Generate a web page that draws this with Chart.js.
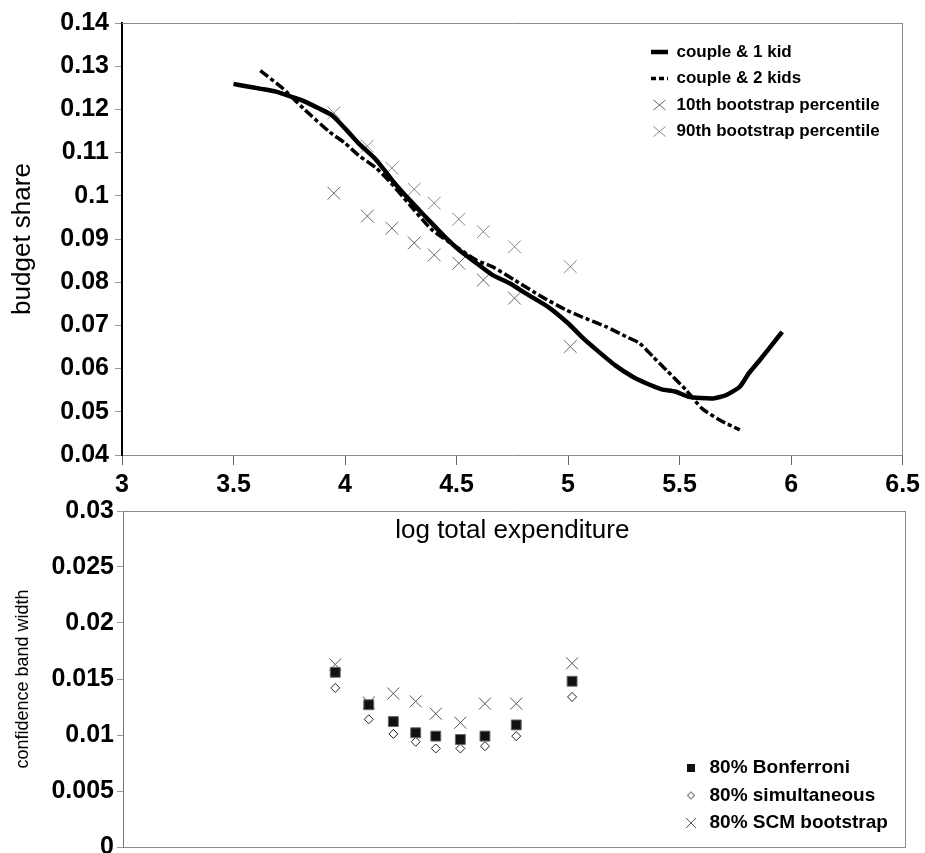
<!DOCTYPE html>
<html>
<head>
<meta charset="utf-8">
<script src="https://cdn.jsdelivr.net/npm/chart.js@4.4.1/dist/chart.umd.min.js"></script>
<style>
html,body{margin:0;padding:0;background:#fff;overflow:hidden;width:925px;height:853px}
#w1{position:absolute;left:0;top:0;width:925px;height:546px;z-index:2}
#w2{position:absolute;left:0;top:470px;width:925px;height:400px;z-index:1}
canvas{display:block}
</style>
</head>
<body>
<div id="w1"><canvas id="c1" width="925" height="546"></canvas></div>
<div id="w2"><canvas id="c2" width="925" height="400"></canvas></div>
<script>
const FONT = "'Liberation Sans', Arial, Helvetica, sans-serif";

// ---- top panel: budget share curves ----
const kid1X = [3.50, 3.55, 3.63, 3.69, 3.76, 3.82, 3.88, 3.94, 4.00, 4.06, 4.14, 4.21, 4.29, 4.36, 4.44, 4.51,
               4.59, 4.66, 4.74, 4.81, 4.91, 5.00, 5.06, 5.11, 5.21, 5.29, 5.35, 5.42, 5.48, 5.54, 5.65, 5.71,
               5.77, 5.81, 5.86, 5.92, 5.96];
const kid1Y = [0.1259, 0.1254, 0.1247, 0.1241, 0.1229, 0.1218, 0.1203, 0.1187, 0.1156, 0.1122, 0.1083, 0.1037,
               0.0990, 0.0952, 0.0909, 0.0875, 0.0844, 0.0817, 0.0797, 0.0774, 0.0743, 0.0705, 0.0674, 0.0651,
               0.0608, 0.0581, 0.0566, 0.0552, 0.0547, 0.0535, 0.0531, 0.0539, 0.0558, 0.0589, 0.0620, 0.0659, 0.0685];
const kid2X = [3.62, 3.72, 3.76, 3.82, 3.93, 4.00, 4.06, 4.14, 4.20, 4.29, 4.39, 4.51, 4.59, 4.66, 4.76, 4.88,
               4.99, 5.06, 5.17, 5.26, 5.32, 5.38, 5.44, 5.53, 5.60, 5.68, 5.77];
const kid2Y = [0.1290, 0.1249, 0.1229, 0.1199, 0.1148, 0.1122, 0.1094, 0.1064, 0.1033, 0.0979, 0.0921, 0.0878,
               0.0851, 0.0836, 0.0805, 0.0767, 0.0736, 0.0720, 0.0697, 0.0674, 0.0659, 0.0628, 0.0597, 0.0550,
               0.0508, 0.0481, 0.0458];
const gridX = [3.95, 4.10, 4.21, 4.31, 4.40, 4.51, 4.62, 4.76, 5.01];
const pct10 = [0.1006, 0.0953, 0.0925, 0.0891, 0.0863, 0.0844, 0.0805, 0.0763, 0.0651];
const pct90 = [0.1192, 0.1115, 0.1064, 0.1015, 0.0983, 0.0946, 0.0917, 0.0882, 0.0836];

// ---- bottom panel: confidence band widths ----
const bonferroni = [0.0156, 0.0127, 0.0112, 0.0102, 0.0099, 0.0096, 0.0099, 0.0109, 0.0148];
const simultaneous = [0.0142, 0.0114, 0.0101, 0.0094, 0.0088, 0.0088, 0.0090, 0.0099, 0.0134];
const scmBootstrap = [0.0163, 0.0129, 0.0137, 0.0130, 0.0119, 0.0111, 0.0128, 0.0128, 0.0164];

// ---- tick values ----
const xTicks = [3, 3.5, 4, 4.5, 5, 5.5, 6, 6.5];
const topYTicks = [0.04, 0.05, 0.06, 0.07, 0.08, 0.09, 0.10, 0.11, 0.12, 0.13, 0.14];
const bottomYTicks = [0, 0.005, 0.01, 0.015, 0.02, 0.025, 0.03];

const pts = (xs, ys) => xs.map((x, i) => ({x: x, y: ys[i]}));
const fmt = v => String(Number(Number(v).toFixed(4)));
const setTicks = arr => scale => { scale.ticks = arr.map(v => ({value: v})); };
const tickFont = {family: FONT, size: 25, weight: 'bold'};
const frame = {color: '#8a8a8a', width: 1, dash: [12, 3]};

const placeLegend = {
  id: 'placeLegend',
  afterLayout(chart, args, opts) {
    const lg = chart.legend;
    if (!lg || opts.left == null) return;
    lg.left = opts.left; lg.right = opts.left + lg.width;
    lg.top = opts.top; lg.bottom = opts.top + lg.height;
  }
};

function icon(kind) {
  const c = document.createElement('canvas');
  c.width = 14; c.height = 14;
  const g = c.getContext('2d');
  if (kind === 'square') {
    g.fillStyle = '#111'; g.fillRect(3, 3, 8, 8);
  } else if (kind === 'diamond') {
    g.beginPath(); g.moveTo(7, 3.5); g.lineTo(10.5, 7); g.lineTo(7, 10.5); g.lineTo(3.5, 7); g.closePath();
    g.fillStyle = '#fff'; g.fill(); g.strokeStyle = '#333'; g.lineWidth = 1; g.stroke();
  } else {
    g.beginPath(); g.moveTo(2, 2); g.lineTo(12, 12); g.moveTo(12, 2); g.lineTo(2, 12);
    g.strokeStyle = '#555'; g.lineWidth = 1; g.stroke();
  }
  return c;
}

// ================= TOP CHART =================
const topLegendDash = [[], [5, 3], [], []];
new Chart(document.getElementById('c1'), {
  type: 'scatter',
  data: {
    datasets: [
      {label: 'couple & 1 kid', data: pts(kid1X, kid1Y), showLine: true, borderColor: '#000',
       borderWidth: 4.5, pointRadius: 0, tension: 0.2, fill: false, borderJoinStyle: 'round'},
      {label: 'couple & 2 kids', data: pts(kid2X, kid2Y), showLine: true, borderColor: '#000',
       borderWidth: 3.5, borderDash: [10, 3, 4, 3], pointRadius: 0, tension: 0.2, fill: false},
      {label: '10th bootstrap percentile', data: pts(gridX, pct10), pointStyle: 'crossRot', pointRadius: 9,
       pointBorderColor: '#666', pointBackgroundColor: 'rgba(0,0,0,0)', pointBorderWidth: 1, borderColor: '#666'},
      {label: '90th bootstrap percentile', data: pts(gridX, pct90), pointStyle: 'crossRot', pointRadius: 9,
       pointBorderColor: '#888', pointBackgroundColor: 'rgba(0,0,0,0)', pointBorderWidth: 1, borderColor: '#888'}
    ]
  },
  options: {
    responsive: false, animation: false, events: [],
    layout: {padding: {left: 0, right: 21, top: 23, bottom: 0}},
    scales: {
      x: {
        type: 'linear', position: 'bottom', min: 3, max: 6.5,
        afterBuildTicks: setTicks(xTicks), afterFit: s => { s.height = 91; },
        ticks: {callback: v => fmt(v), font: tickFont, color: '#000', padding: 5, maxRotation: 0, autoSkip: false},
        grid: {drawOnChartArea: false, drawTicks: true, tickLength: 10, tickColor: '#666'},
        border: frame,
        title: {display: true, text: 'log total expenditure', font: {family: FONT, size: 26}, color: '#000', padding: 0}
      },
      y: {
        type: 'linear', position: 'left', min: 0.04, max: 0.14,
        afterBuildTicks: setTicks(topYTicks), afterFit: s => { s.width = 122; },
        ticks: {callback: v => fmt(v), font: tickFont, color: '#000', padding: 6},
        grid: {drawOnChartArea: false, drawTicks: true, tickLength: 7, tickColor: '#999'},
        border: {color: '#000', width: 2},
        title: {display: true, text: 'budget share', font: {family: FONT, size: 26}, color: '#000', padding: {top: 7, bottom: 0}}
      },
      x2: {
        type: 'linear', position: 'top', min: 3, max: 6.5,
        ticks: {display: false}, grid: {display: false, drawTicks: false}, border: frame,
        afterFit: s => { s.height = 0; }
      },
      y2: {
        type: 'linear', position: 'right', min: 0.04, max: 0.14,
        ticks: {display: false}, grid: {display: false, drawTicks: false}, border: frame,
        afterFit: s => { s.width = 0; }
      }
    },
    plugins: {
      tooltip: {enabled: false},
      placeLegend: {left: 641.5, top: 34},
      legend: {
        position: 'chartArea', align: 'start',
        labels: {
          usePointStyle: true, pointStyleWidth: 17, boxHeight: 10, padding: 9.5,
          font: {family: FONT, size: 17, weight: 'bold'}, color: '#000',
          generateLabels: chart => chart.data.datasets.map((ds, i) => ({
            text: ds.label,
            pointStyle: ds.showLine ? 'line' : ds.pointStyle,
            strokeStyle: ds.showLine ? ds.borderColor : ds.pointBorderColor,
            fillStyle: 'rgba(0,0,0,0)',
            lineWidth: ds.showLine ? ds.borderWidth : ds.pointBorderWidth,
            lineDash: topLegendDash[i],
            fontColor: '#000', hidden: false, datasetIndex: i
          }))
        }
      }
    }
  },
  plugins: [placeLegend]
});

// ================= BOTTOM CHART =================
const bottomIcons = [icon('square'), icon('diamond'), icon('cross')];
new Chart(document.getElementById('c2'), {
  type: 'scatter',
  data: {
    datasets: [
      {label: '80% Bonferroni', data: pts(gridX, bonferroni), pointStyle: 'rect', pointRadius: 7,
       pointBackgroundColor: '#111', pointBorderColor: '#666', pointBorderWidth: 1},
      {label: '80% simultaneous', data: pts(gridX, simultaneous), pointStyle: 'rectRot', pointRadius: 4.5,
       pointBackgroundColor: '#fff', pointBorderColor: '#222', pointBorderWidth: 1},
      {label: '80% SCM bootstrap', data: pts(gridX, scmBootstrap), pointStyle: 'crossRot', pointRadius: 8.5,
       pointBackgroundColor: 'rgba(0,0,0,0)', pointBorderColor: '#555', pointBorderWidth: 1}
    ]
  },
  options: {
    responsive: false, animation: false, events: [],
    layout: {padding: {left: 0, right: 20, top: 41, bottom: 23}},
    scales: {
      x: {
        type: 'linear', position: 'bottom', min: 3, max: 6.5,
        ticks: {display: false}, grid: {display: false, drawTicks: false}, border: frame,
        afterFit: s => { s.height = 0; }
      },
      y: {
        type: 'linear', position: 'left', min: 0, max: 0.03,
        afterBuildTicks: setTicks(bottomYTicks), afterFit: s => { s.width = 123; },
        ticks: {callback: v => fmt(v), font: tickFont, color: '#000', padding: 3},
        grid: {drawOnChartArea: false, drawTicks: true, tickLength: 6, tickColor: '#999'},
        border: {color: '#777', width: 1},
        title: {display: true, text: 'confidence band width', font: {family: FONT, size: 18}, color: '#000', padding: {top: 12, bottom: 0}}
      },
      x2: {
        type: 'linear', position: 'top', min: 3, max: 6.5,
        ticks: {display: false}, grid: {display: false, drawTicks: false}, border: frame,
        afterFit: s => { s.height = 0; }
      },
      y2: {
        type: 'linear', position: 'right', min: 0, max: 0.03,
        ticks: {display: false}, grid: {display: false, drawTicks: false}, border: frame,
        afterFit: s => { s.width = 0; }
      }
    },
    plugins: {
      tooltip: {enabled: false},
      placeLegend: {left: 673.5, top: 280},
      legend: {
        position: 'chartArea', align: 'start',
        labels: {
          usePointStyle: true, pointStyleWidth: 18, boxHeight: 14, padding: 8.5,
          font: {family: FONT, size: 19, weight: 'bold'}, color: '#000',
          generateLabels: chart => chart.data.datasets.map((ds, i) => ({
            text: ds.label, pointStyle: bottomIcons[i], strokeStyle: '#000', fillStyle: '#000',
            lineWidth: 0, fontColor: '#000', hidden: false, datasetIndex: i
          }))
        }
      }
    }
  },
  plugins: [placeLegend]
});
</script>
</body>
</html>
